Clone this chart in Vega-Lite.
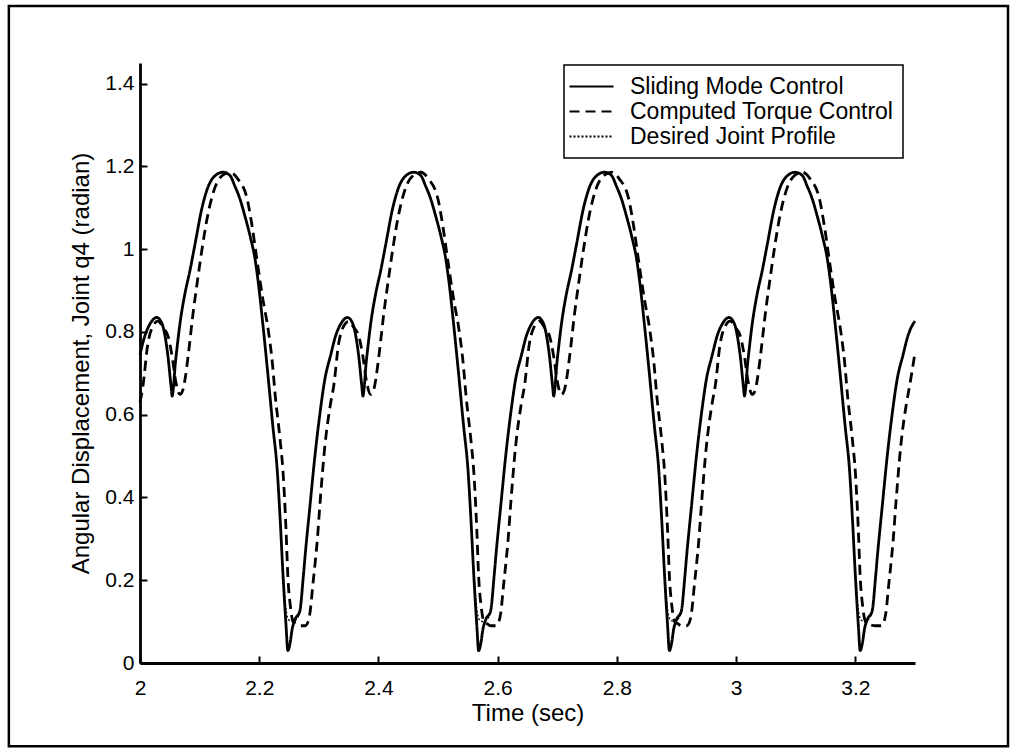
{
  "$schema": "https://vega.github.io/schema/vega-lite/v6.json",
  "width": 775,
  "height": 600,
  "autosize": {"type": "none"},
  "padding": {"left": 140, "top": 63, "right": 97, "bottom": 85},
  "background": "white",
  "config": {
    "view": {"stroke": null},
    "font": "Liberation Sans",
    "axis": {
      "domainColor": "black", "domainWidth": 2.8,
      "tickColor": "black", "tickWidth": 2, "tickSize": -7,
      "labelColor": "black", "labelFontSize": 21, "labelFont": "Liberation Sans",
      "titleColor": "black", "titleFontSize": 24, "titleFontWeight": "normal", "titleFont": "Liberation Sans",
      "grid": false, "labelFlush": false, "labelOverlap": false
    },
    "axisX": {"labelPadding": 21, "titlePadding": 3},
    "axisY": {"labelPadding": 13, "titlePadding": 11},
    "legend": {"strokeWidth": 1.5}
  },
  "datasets": {
    "smc": [
      {"t":2.000,"v":0.745},{"t":2.008,"v":0.79},{"t":2.017,"v":0.82},{"t":2.028,"v":0.835},{"t":2.037,"v":0.82},{"t":2.042,"v":0.79},{"t":2.047,"v":0.74},{"t":2.052,"v":0.67},{"t":2.054,"v":0.645},{"t":2.056,"v":0.665},{"t":2.059,"v":0.72},{"t":2.062,"v":0.76},{"t":2.067,"v":0.82},{"t":2.075,"v":0.89},{"t":2.084,"v":0.95},{"t":2.092,"v":1.01},{"t":2.104,"v":1.10},{"t":2.114,"v":1.15},{"t":2.128,"v":1.18},{"t":2.139,"v":1.186},{"t":2.151,"v":1.178},{"t":2.159,"v":1.153},{"t":2.168,"v":1.12},{"t":2.176,"v":1.08},{"t":2.185,"v":1.03},{"t":2.193,"v":0.976},{"t":2.200,"v":0.90},{"t":2.206,"v":0.82},{"t":2.213,"v":0.72},{"t":2.223,"v":0.57},{"t":2.230,"v":0.47},{"t":2.235,"v":0.35},{"t":2.240,"v":0.21},{"t":2.245,"v":0.09},{"t":2.248,"v":0.03},{"t":2.252,"v":0.05},{"t":2.255,"v":0.08},{"t":2.260,"v":0.105},{"t":2.268,"v":0.125},{"t":2.274,"v":0.21},{"t":2.277,"v":0.26},{"t":2.285,"v":0.378},{"t":2.294,"v":0.508},{"t":2.302,"v":0.605},{"t":2.310,"v":0.685},
      {"t":2.320,"v":0.745},{"t":2.328,"v":0.79},{"t":2.337,"v":0.82},{"t":2.348,"v":0.835},{"t":2.357,"v":0.82},{"t":2.362,"v":0.79},{"t":2.367,"v":0.74},{"t":2.372,"v":0.67},{"t":2.374,"v":0.645},{"t":2.376,"v":0.665},{"t":2.379,"v":0.72},{"t":2.382,"v":0.76},{"t":2.387,"v":0.82},{"t":2.395,"v":0.89},{"t":2.404,"v":0.95},{"t":2.412,"v":1.01},{"t":2.424,"v":1.10},{"t":2.434,"v":1.15},{"t":2.448,"v":1.18},{"t":2.459,"v":1.186},{"t":2.471,"v":1.178},{"t":2.479,"v":1.153},{"t":2.488,"v":1.12},{"t":2.496,"v":1.08},{"t":2.505,"v":1.03},{"t":2.513,"v":0.976},{"t":2.520,"v":0.90},{"t":2.526,"v":0.82},{"t":2.533,"v":0.72},{"t":2.543,"v":0.57},{"t":2.550,"v":0.47},{"t":2.555,"v":0.35},{"t":2.560,"v":0.21},{"t":2.565,"v":0.09},{"t":2.568,"v":0.03},{"t":2.572,"v":0.05},{"t":2.575,"v":0.08},{"t":2.580,"v":0.105},{"t":2.588,"v":0.125},{"t":2.594,"v":0.21},{"t":2.597,"v":0.26},{"t":2.605,"v":0.378},{"t":2.614,"v":0.508},{"t":2.622,"v":0.605},{"t":2.630,"v":0.685},
      {"t":2.640,"v":0.745},{"t":2.648,"v":0.79},{"t":2.657,"v":0.82},{"t":2.668,"v":0.835},{"t":2.677,"v":0.82},{"t":2.682,"v":0.79},{"t":2.687,"v":0.74},{"t":2.692,"v":0.67},{"t":2.694,"v":0.645},{"t":2.696,"v":0.665},{"t":2.699,"v":0.72},{"t":2.702,"v":0.76},{"t":2.707,"v":0.82},{"t":2.715,"v":0.89},{"t":2.724,"v":0.95},{"t":2.732,"v":1.01},{"t":2.744,"v":1.10},{"t":2.754,"v":1.15},{"t":2.768,"v":1.18},{"t":2.779,"v":1.186},{"t":2.791,"v":1.178},{"t":2.799,"v":1.153},{"t":2.808,"v":1.12},{"t":2.816,"v":1.08},{"t":2.825,"v":1.03},{"t":2.833,"v":0.976},{"t":2.840,"v":0.90},{"t":2.846,"v":0.82},{"t":2.853,"v":0.72},{"t":2.863,"v":0.57},{"t":2.870,"v":0.47},{"t":2.875,"v":0.35},{"t":2.880,"v":0.21},{"t":2.885,"v":0.09},{"t":2.888,"v":0.03},{"t":2.892,"v":0.05},{"t":2.895,"v":0.08},{"t":2.900,"v":0.105},{"t":2.908,"v":0.125},{"t":2.914,"v":0.21},{"t":2.917,"v":0.26},{"t":2.925,"v":0.378},{"t":2.934,"v":0.508},{"t":2.942,"v":0.605},{"t":2.950,"v":0.685},
      {"t":2.960,"v":0.745},{"t":2.968,"v":0.79},{"t":2.977,"v":0.82},{"t":2.988,"v":0.835},{"t":2.997,"v":0.82},{"t":3.002,"v":0.79},{"t":3.007,"v":0.74},{"t":3.012,"v":0.67},{"t":3.014,"v":0.645},{"t":3.016,"v":0.665},{"t":3.019,"v":0.72},{"t":3.022,"v":0.76},{"t":3.027,"v":0.82},{"t":3.035,"v":0.89},{"t":3.044,"v":0.95},{"t":3.052,"v":1.01},{"t":3.064,"v":1.10},{"t":3.074,"v":1.15},{"t":3.088,"v":1.18},{"t":3.099,"v":1.186},{"t":3.111,"v":1.178},{"t":3.119,"v":1.153},{"t":3.128,"v":1.12},{"t":3.136,"v":1.08},{"t":3.145,"v":1.03},{"t":3.153,"v":0.976},{"t":3.160,"v":0.90},{"t":3.166,"v":0.82},{"t":3.173,"v":0.72},{"t":3.183,"v":0.57},{"t":3.190,"v":0.47},{"t":3.195,"v":0.35},{"t":3.200,"v":0.21},{"t":3.205,"v":0.09},{"t":3.208,"v":0.03},{"t":3.212,"v":0.05},{"t":3.215,"v":0.08},{"t":3.220,"v":0.105},{"t":3.228,"v":0.125},{"t":3.234,"v":0.21},{"t":3.237,"v":0.26},{"t":3.245,"v":0.378},{"t":3.254,"v":0.508},{"t":3.262,"v":0.605},{"t":3.270,"v":0.685},
      {"t":3.280,"v":0.745},{"t":3.288,"v":0.79},{"t":3.297,"v":0.82},{"t":3.300,"v":0.826}
    ],
    "ctc": [
      {"t":2.000,"v":0.63},{"t":2.005,"v":0.67},{"t":2.013,"v":0.77},{"t":2.022,"v":0.815},{"t":2.030,"v":0.826},{"t":2.039,"v":0.81},{"t":2.047,"v":0.79},{"t":2.054,"v":0.74},{"t":2.060,"v":0.68},{"t":2.067,"v":0.649},{"t":2.072,"v":0.66},{"t":2.076,"v":0.69},{"t":2.081,"v":0.745},{"t":2.089,"v":0.845},{"t":2.097,"v":0.93},{"t":2.104,"v":1.00},{"t":2.112,"v":1.07},{"t":2.126,"v":1.15},{"t":2.138,"v":1.178},{"t":2.151,"v":1.186},{"t":2.164,"v":1.17},{"t":2.180,"v":1.12},{"t":2.188,"v":1.056},{"t":2.196,"v":0.976},{"t":2.206,"v":0.88},{"t":2.215,"v":0.806},{"t":2.222,"v":0.726},{"t":2.227,"v":0.644},{"t":2.235,"v":0.54},{"t":2.240,"v":0.46},{"t":2.245,"v":0.32},{"t":2.248,"v":0.21},{"t":2.252,"v":0.14},{"t":2.257,"v":0.10},{"t":2.262,"v":0.095},{"t":2.268,"v":0.09},{"t":2.277,"v":0.09},{"t":2.282,"v":0.10},{"t":2.285,"v":0.12},{"t":2.290,"v":0.19},{"t":2.294,"v":0.245},{"t":2.297,"v":0.29},{"t":2.302,"v":0.387},{"t":2.310,"v":0.523},
      {"t":2.320,"v":0.63},{"t":2.325,"v":0.67},{"t":2.333,"v":0.77},{"t":2.342,"v":0.815},{"t":2.350,"v":0.826},{"t":2.359,"v":0.81},{"t":2.367,"v":0.79},{"t":2.374,"v":0.74},{"t":2.380,"v":0.68},{"t":2.387,"v":0.649},{"t":2.392,"v":0.66},{"t":2.396,"v":0.69},{"t":2.401,"v":0.745},{"t":2.409,"v":0.845},{"t":2.417,"v":0.93},{"t":2.424,"v":1.00},{"t":2.432,"v":1.07},{"t":2.446,"v":1.15},{"t":2.458,"v":1.178},{"t":2.471,"v":1.186},{"t":2.484,"v":1.17},{"t":2.500,"v":1.12},{"t":2.508,"v":1.056},{"t":2.516,"v":0.976},{"t":2.526,"v":0.88},{"t":2.535,"v":0.806},{"t":2.542,"v":0.726},{"t":2.547,"v":0.644},{"t":2.555,"v":0.54},{"t":2.560,"v":0.46},{"t":2.565,"v":0.32},{"t":2.568,"v":0.21},{"t":2.572,"v":0.14},{"t":2.577,"v":0.10},{"t":2.582,"v":0.095},{"t":2.588,"v":0.09},{"t":2.597,"v":0.09},{"t":2.602,"v":0.10},{"t":2.605,"v":0.12},{"t":2.610,"v":0.19},{"t":2.614,"v":0.245},{"t":2.617,"v":0.29},{"t":2.622,"v":0.387},{"t":2.630,"v":0.523},
      {"t":2.640,"v":0.63},{"t":2.645,"v":0.67},{"t":2.653,"v":0.77},{"t":2.662,"v":0.815},{"t":2.670,"v":0.826},{"t":2.679,"v":0.81},{"t":2.687,"v":0.79},{"t":2.694,"v":0.74},{"t":2.700,"v":0.68},{"t":2.707,"v":0.649},{"t":2.712,"v":0.66},{"t":2.716,"v":0.69},{"t":2.721,"v":0.745},{"t":2.729,"v":0.845},{"t":2.737,"v":0.93},{"t":2.744,"v":1.00},{"t":2.752,"v":1.07},{"t":2.766,"v":1.15},{"t":2.778,"v":1.178},{"t":2.791,"v":1.186},{"t":2.804,"v":1.17},{"t":2.820,"v":1.12},{"t":2.828,"v":1.056},{"t":2.836,"v":0.976},{"t":2.846,"v":0.88},{"t":2.855,"v":0.806},{"t":2.862,"v":0.726},{"t":2.867,"v":0.644},{"t":2.875,"v":0.54},{"t":2.880,"v":0.46},{"t":2.885,"v":0.32},{"t":2.888,"v":0.21},{"t":2.892,"v":0.14},{"t":2.897,"v":0.10},{"t":2.902,"v":0.095},{"t":2.908,"v":0.09},{"t":2.917,"v":0.09},{"t":2.922,"v":0.10},{"t":2.925,"v":0.12},{"t":2.930,"v":0.19},{"t":2.934,"v":0.245},{"t":2.937,"v":0.29},{"t":2.942,"v":0.387},{"t":2.950,"v":0.523},
      {"t":2.960,"v":0.63},{"t":2.965,"v":0.67},{"t":2.973,"v":0.77},{"t":2.982,"v":0.815},{"t":2.990,"v":0.826},{"t":2.999,"v":0.81},{"t":3.007,"v":0.79},{"t":3.014,"v":0.74},{"t":3.020,"v":0.68},{"t":3.027,"v":0.649},{"t":3.032,"v":0.66},{"t":3.036,"v":0.69},{"t":3.041,"v":0.745},{"t":3.049,"v":0.845},{"t":3.057,"v":0.93},{"t":3.064,"v":1.00},{"t":3.072,"v":1.07},{"t":3.086,"v":1.15},{"t":3.098,"v":1.178},{"t":3.111,"v":1.186},{"t":3.124,"v":1.17},{"t":3.140,"v":1.12},{"t":3.148,"v":1.056},{"t":3.156,"v":0.976},{"t":3.166,"v":0.88},{"t":3.175,"v":0.806},{"t":3.182,"v":0.726},{"t":3.187,"v":0.644},{"t":3.195,"v":0.54},{"t":3.200,"v":0.46},{"t":3.205,"v":0.32},{"t":3.208,"v":0.21},{"t":3.212,"v":0.14},{"t":3.217,"v":0.10},{"t":3.222,"v":0.095},{"t":3.234,"v":0.09},{"t":3.243,"v":0.09},{"t":3.248,"v":0.10},{"t":3.251,"v":0.12},{"t":3.256,"v":0.19},{"t":3.260,"v":0.245},{"t":3.263,"v":0.29},{"t":3.268,"v":0.387},{"t":3.276,"v":0.523},
      {"t":3.286,"v":0.63},{"t":3.291,"v":0.67},{"t":3.300,"v":0.75}
    ],
    "desired": [
      {"t":2.000,"v":0.745},{"t":2.008,"v":0.79},{"t":2.017,"v":0.82},{"t":2.028,"v":0.835},{"t":2.037,"v":0.82},{"t":2.042,"v":0.79},{"t":2.047,"v":0.74},{"t":2.052,"v":0.67},{"t":2.054,"v":0.645},{"t":2.056,"v":0.665},{"t":2.059,"v":0.72},{"t":2.062,"v":0.76},{"t":2.067,"v":0.82},{"t":2.075,"v":0.89},{"t":2.084,"v":0.95},{"t":2.092,"v":1.01},{"t":2.104,"v":1.10},{"t":2.114,"v":1.15},{"t":2.128,"v":1.18},{"t":2.139,"v":1.186},{"t":2.151,"v":1.178},{"t":2.159,"v":1.153},{"t":2.168,"v":1.12},{"t":2.176,"v":1.08},{"t":2.185,"v":1.03},{"t":2.193,"v":0.976},{"t":2.200,"v":0.90},{"t":2.206,"v":0.82},{"t":2.213,"v":0.72},{"t":2.223,"v":0.57},{"t":2.230,"v":0.47},{"t":2.235,"v":0.35},{"t":2.240,"v":0.22},{"t":2.245,"v":0.13},{"t":2.249,"v":0.105},{"t":2.256,"v":0.10},{"t":2.262,"v":0.105},{"t":2.268,"v":0.125},{"t":2.274,"v":0.21},{"t":2.277,"v":0.26},{"t":2.285,"v":0.378},{"t":2.294,"v":0.508},{"t":2.302,"v":0.605},{"t":2.310,"v":0.685},
      {"t":2.320,"v":0.745},{"t":2.328,"v":0.79},{"t":2.337,"v":0.82},{"t":2.348,"v":0.835},{"t":2.357,"v":0.82},{"t":2.362,"v":0.79},{"t":2.367,"v":0.74},{"t":2.372,"v":0.67},{"t":2.374,"v":0.645},{"t":2.376,"v":0.665},{"t":2.379,"v":0.72},{"t":2.382,"v":0.76},{"t":2.387,"v":0.82},{"t":2.395,"v":0.89},{"t":2.404,"v":0.95},{"t":2.412,"v":1.01},{"t":2.424,"v":1.10},{"t":2.434,"v":1.15},{"t":2.448,"v":1.18},{"t":2.459,"v":1.186},{"t":2.471,"v":1.178},{"t":2.479,"v":1.153},{"t":2.488,"v":1.12},{"t":2.496,"v":1.08},{"t":2.505,"v":1.03},{"t":2.513,"v":0.976},{"t":2.520,"v":0.90},{"t":2.526,"v":0.82},{"t":2.533,"v":0.72},{"t":2.543,"v":0.57},{"t":2.550,"v":0.47},{"t":2.555,"v":0.35},{"t":2.560,"v":0.22},{"t":2.565,"v":0.13},{"t":2.569,"v":0.105},{"t":2.576,"v":0.10},{"t":2.582,"v":0.105},{"t":2.588,"v":0.125},{"t":2.594,"v":0.21},{"t":2.597,"v":0.26},{"t":2.605,"v":0.378},{"t":2.614,"v":0.508},{"t":2.622,"v":0.605},{"t":2.630,"v":0.685},
      {"t":2.640,"v":0.745},{"t":2.648,"v":0.79},{"t":2.657,"v":0.82},{"t":2.668,"v":0.835},{"t":2.677,"v":0.82},{"t":2.682,"v":0.79},{"t":2.687,"v":0.74},{"t":2.692,"v":0.67},{"t":2.694,"v":0.645},{"t":2.696,"v":0.665},{"t":2.699,"v":0.72},{"t":2.702,"v":0.76},{"t":2.707,"v":0.82},{"t":2.715,"v":0.89},{"t":2.724,"v":0.95},{"t":2.732,"v":1.01},{"t":2.744,"v":1.10},{"t":2.754,"v":1.15},{"t":2.768,"v":1.18},{"t":2.779,"v":1.186},{"t":2.791,"v":1.178},{"t":2.799,"v":1.153},{"t":2.808,"v":1.12},{"t":2.816,"v":1.08},{"t":2.825,"v":1.03},{"t":2.833,"v":0.976},{"t":2.840,"v":0.90},{"t":2.846,"v":0.82},{"t":2.853,"v":0.72},{"t":2.863,"v":0.57},{"t":2.870,"v":0.47},{"t":2.875,"v":0.35},{"t":2.880,"v":0.22},{"t":2.885,"v":0.13},{"t":2.889,"v":0.105},{"t":2.896,"v":0.10},{"t":2.902,"v":0.105},{"t":2.908,"v":0.125},{"t":2.914,"v":0.21},{"t":2.917,"v":0.26},{"t":2.925,"v":0.378},{"t":2.934,"v":0.508},{"t":2.942,"v":0.605},{"t":2.950,"v":0.685},
      {"t":2.960,"v":0.745},{"t":2.968,"v":0.79},{"t":2.977,"v":0.82},{"t":2.988,"v":0.835},{"t":2.997,"v":0.82},{"t":3.002,"v":0.79},{"t":3.007,"v":0.74},{"t":3.012,"v":0.67},{"t":3.014,"v":0.645},{"t":3.016,"v":0.665},{"t":3.019,"v":0.72},{"t":3.022,"v":0.76},{"t":3.027,"v":0.82},{"t":3.035,"v":0.89},{"t":3.044,"v":0.95},{"t":3.052,"v":1.01},{"t":3.064,"v":1.10},{"t":3.074,"v":1.15},{"t":3.088,"v":1.18},{"t":3.099,"v":1.186},{"t":3.111,"v":1.178},{"t":3.119,"v":1.153},{"t":3.128,"v":1.12},{"t":3.136,"v":1.08},{"t":3.145,"v":1.03},{"t":3.153,"v":0.976},{"t":3.160,"v":0.90},{"t":3.166,"v":0.82},{"t":3.173,"v":0.72},{"t":3.183,"v":0.57},{"t":3.190,"v":0.47},{"t":3.195,"v":0.35},{"t":3.200,"v":0.22},{"t":3.205,"v":0.13},{"t":3.209,"v":0.105},{"t":3.216,"v":0.10},{"t":3.222,"v":0.105},{"t":3.228,"v":0.125},{"t":3.234,"v":0.21},{"t":3.237,"v":0.26},{"t":3.245,"v":0.378},{"t":3.254,"v":0.508},{"t":3.262,"v":0.605},{"t":3.270,"v":0.685},
      {"t":3.280,"v":0.745},{"t":3.288,"v":0.79},{"t":3.297,"v":0.82},{"t":3.300,"v":0.826}
    ]
  },
  "layer": [
    {
      "data": {"values": [{}]},
      "mark": {"type": "rect", "filled": false, "stroke": "black", "strokeWidth": 2.5, "clip": false},
      "encoding": {
        "x": {"datum": 1.78, "type": "quantitative", "title": "Time (sec)", "scale": {"domain": [2, 3.3], "nice": false, "zero": false}},
        "x2": {"datum": 3.456},
        "y": {"datum": -0.201, "type": "quantitative", "title": "Angular Displacement, Joint q4 (radian)", "scale": {"domain": [0, 1.45], "nice": false, "zero": false}},
        "y2": {"datum": 1.588}
      }
    },
    {
      "data": {"name": "desired"},
      "mark": {"type": "line", "color": "black", "strokeWidth": 1.3, "interpolate": "monotone"},
      "encoding": {
        "x": {
          "field": "t", "type": "quantitative", "title": "Time (sec)",
          "axis": {"values": [2, 2.2, 2.4, 2.6, 2.8, 3, 3.2], "format": "~g"}
        },
        "y": {
          "field": "v", "type": "quantitative", "title": "Angular Displacement, Joint q4 (radian)",
          "axis": {"values": [0, 0.2, 0.4, 0.6, 0.8, 1, 1.2, 1.4], "format": "~g"}
        },
        "strokeDash": {
          "datum": "Desired Joint Profile", "type": "nominal",
          "scale": {
            "domain": ["Sliding Mode Control", "Computed Torque Control", "Desired Joint Profile"],
            "range": [[1, 0], [10, 6], [2, 2]]
          },
          "legend": {
            "orient": "none", "legendX": 424, "legendY": 2, "title": null,
            "strokeColor": "black", "fillColor": "white", "padding": 9,
            "labelFontSize": 23, "labelColor": "black", "labelFont": "Liberation Sans", "labelOffset": 32, "labelLimit": 400,
            "symbolType": "M-1.455,0H2.545", "symbolSize": 484, "symbolStrokeWidth": 2.2, "symbolStrokeColor": "black", "symbolFillColor": "transparent",
            "rowPadding": -1
          }
        }
      }
    },
    {
      "data": {"name": "ctc"},
      "mark": {"type": "line", "color": "black", "strokeWidth": 2.8, "interpolate": "monotone"},
      "encoding": {
        "x": {"field": "t", "type": "quantitative", "title": "Time (sec)"},
        "y": {"field": "v", "type": "quantitative", "title": "Angular Displacement, Joint q4 (radian)"},
        "strokeDash": {"datum": "Computed Torque Control", "type": "nominal"}
      }
    },
    {
      "data": {"name": "smc"},
      "mark": {"type": "line", "color": "black", "strokeWidth": 2.8, "interpolate": "monotone"},
      "encoding": {
        "x": {"field": "t", "type": "quantitative", "title": "Time (sec)"},
        "y": {"field": "v", "type": "quantitative", "title": "Angular Displacement, Joint q4 (radian)"},
        "strokeDash": {"datum": "Sliding Mode Control", "type": "nominal"}
      }
    }
  ]
}
